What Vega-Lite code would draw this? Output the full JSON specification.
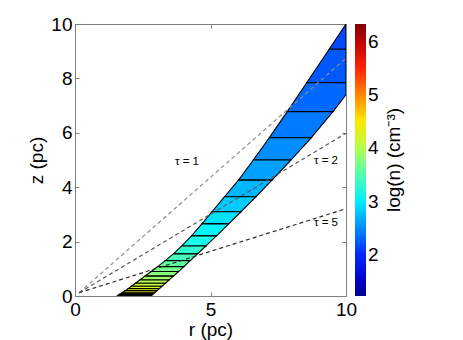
{
  "$schema": "https://vega.github.io/schema/vega-lite/v6.json",
  "autosize": {"type": "none"},
  "width": 271,
  "height": 272,
  "padding": {"left": 75, "top": 24, "right": 117, "bottom": 44},
  "config": {
    "font": "Liberation Sans",
    "view": {"stroke": "#808080", "strokeWidth": 1},
    "axis": {
      "domainColor": "#808080", "tickColor": "#808080", "tickSize": -4, "tickWidth": 1,
      "labelFont": "Liberation Sans", "labelFontSize": 19, "labelColor": "#000000",
      "titleFont": "Liberation Sans", "titleFontSize": 19, "titleFontWeight": "normal", "titleColor": "#000000",
      "grid": false, "labelOverlap": false
    },
    "legend": {
      "gradientLength": 272, "gradientThickness": 11, "offset": 8, "padding": 0,
      "labelFont": "Liberation Sans", "labelFontSize": 19, "labelColor": "#000000", "labelOffset": 4,
      "titleFont": "Liberation Sans", "titleFontSize": 19, "titleFontWeight": "normal", "titleColor": "#000000",
      "titleOrient": "right", "titleAnchor": "middle", "titlePadding": 6, "gradientStrokeWidth": 0
    }
  },
  "datasets": {
    "band": [
      {"s": 1, "z": 9.07, "ro": 9.38, "ri": 10, "v": 2.17},
      {"s": 1, "z": 10, "ro": 10, "ri": 10, "v": 2.17},
      {"s": 2, "z": 7.84, "ro": 8.55, "ri": 10, "v": 2.25},
      {"s": 2, "z": 9.07, "ro": 9.38, "ri": 10, "v": 2.25},
      {"s": 3, "z": 6.78, "ro": 7.83, "ri": 9.52, "v": 2.33},
      {"s": 3, "z": 7.4, "ro": 8.25, "ri": 10, "v": 2.33},
      {"s": 3, "z": 7.84, "ro": 8.55, "ri": 10, "v": 2.33},
      {"s": 4, "z": 5.82, "ro": 7.17, "ri": 8.72, "v": 2.42},
      {"s": 4, "z": 6.78, "ro": 7.83, "ri": 9.52, "v": 2.42},
      {"s": 5, "z": 5.0, "ro": 6.58, "ri": 7.97, "v": 2.52},
      {"s": 5, "z": 5.82, "ro": 7.17, "ri": 8.72, "v": 2.52},
      {"s": 6, "z": 4.26, "ro": 6.03, "ri": 7.27, "v": 2.62},
      {"s": 6, "z": 5.0, "ro": 6.58, "ri": 7.97, "v": 2.62},
      {"s": 7, "z": 3.65, "ro": 5.52, "ri": 6.68, "v": 2.72},
      {"s": 7, "z": 4.26, "ro": 6.03, "ri": 7.27, "v": 2.72},
      {"s": 8, "z": 3.1, "ro": 5.06, "ri": 6.13, "v": 2.83},
      {"s": 8, "z": 3.65, "ro": 5.52, "ri": 6.68, "v": 2.83},
      {"s": 9, "z": 2.65, "ro": 4.68, "ri": 5.67, "v": 2.94},
      {"s": 9, "z": 3.1, "ro": 5.06, "ri": 6.13, "v": 2.94},
      {"s": 10, "z": 2.21, "ro": 4.3, "ri": 5.22, "v": 3.06},
      {"s": 10, "z": 2.65, "ro": 4.68, "ri": 5.67, "v": 3.06},
      {"s": 11, "z": 1.84, "ro": 3.94, "ri": 4.83, "v": 3.2},
      {"s": 11, "z": 2.21, "ro": 4.3, "ri": 5.22, "v": 3.2},
      {"s": 12, "z": 1.55, "ro": 3.63, "ri": 4.52, "v": 3.33},
      {"s": 12, "z": 1.84, "ro": 3.94, "ri": 4.83, "v": 3.33},
      {"s": 13, "z": 1.3, "ro": 3.33, "ri": 4.25, "v": 3.45},
      {"s": 13, "z": 1.55, "ro": 3.63, "ri": 4.52, "v": 3.45},
      {"s": 14, "z": 1.08, "ro": 3.05, "ri": 4.02, "v": 3.56},
      {"s": 14, "z": 1.3, "ro": 3.33, "ri": 4.25, "v": 3.56},
      {"s": 15, "z": 0.9, "ro": 2.81, "ri": 3.82, "v": 3.67},
      {"s": 15, "z": 1.08, "ro": 3.05, "ri": 4.02, "v": 3.67},
      {"s": 16, "z": 0.73, "ro": 2.58, "ri": 3.63, "v": 3.78},
      {"s": 16, "z": 0.9, "ro": 2.81, "ri": 3.82, "v": 3.78},
      {"s": 17, "z": 0.59, "ro": 2.39, "ri": 3.47, "v": 3.89},
      {"s": 17, "z": 0.73, "ro": 2.58, "ri": 3.63, "v": 3.89},
      {"s": 18, "z": 0.47, "ro": 2.23, "ri": 3.34, "v": 4.0},
      {"s": 18, "z": 0.59, "ro": 2.39, "ri": 3.47, "v": 4.0},
      {"s": 19, "z": 0.36, "ro": 2.08, "ri": 3.21, "v": 4.1},
      {"s": 19, "z": 0.47, "ro": 2.23, "ri": 3.34, "v": 4.1},
      {"s": 20, "z": 0.27, "ro": 1.96, "ri": 3.11, "v": 4.2},
      {"s": 20, "z": 0.36, "ro": 2.08, "ri": 3.21, "v": 4.2},
      {"s": 21, "z": 0.2, "ro": 1.86, "ri": 3.03, "v": 4.3},
      {"s": 21, "z": 0.27, "ro": 1.96, "ri": 3.11, "v": 4.3},
      {"s": 22, "z": 0.14, "ro": 1.77, "ri": 2.96, "v": 4.4},
      {"s": 22, "z": 0.2, "ro": 1.86, "ri": 3.03, "v": 4.4},
      {"s": 23, "z": 0.09, "ro": 1.69, "ri": 2.9, "v": 4.5},
      {"s": 23, "z": 0.14, "ro": 1.77, "ri": 2.96, "v": 4.5},
      {"s": 24, "z": 0.055, "ro": 1.64, "ri": 2.86, "v": 4.6},
      {"s": 24, "z": 0.09, "ro": 1.69, "ri": 2.9, "v": 4.6},
      {"s": 25, "z": 0.03, "ro": 1.6, "ri": 2.83, "v": 4.7},
      {"s": 25, "z": 0.055, "ro": 1.64, "ri": 2.86, "v": 4.7},
      {"s": 26, "z": 0.012, "ro": 1.58, "ri": 2.81, "v": 4.8},
      {"s": 26, "z": 0.03, "ro": 1.6, "ri": 2.83, "v": 4.8},
      {"s": 27, "z": 0, "ro": 1.56, "ri": 2.8, "v": 4.9},
      {"s": 27, "z": 0.012, "ro": 1.58, "ri": 2.81, "v": 4.9}
    ],
    "tau": [
      {"tau": "1", "r": 0.15, "z": 0.12},
      {"tau": "1", "r": 10, "z": 8.74},
      {"tau": "2", "r": 0.15, "z": 0.12},
      {"tau": "2", "r": 10, "z": 5.98},
      {"tau": "5", "r": 0.15, "z": 0.12},
      {"tau": "5", "r": 10, "z": 3.21}
    ],
    "labels": [
      {"label": "τ = 1", "r": 4.13, "z": 4.94},
      {"label": "τ = 2", "r": 9.26, "z": 4.96},
      {"label": "τ = 5", "r": 9.26, "z": 2.67}
    ]
  },
  "resolve": {"axis": {"x": "independent", "y": "independent"}},
  "layer": [
    {
      "data": {"name": "band"},
      "mark": {"type": "area", "orient": "horizontal", "stroke": "#000000", "strokeWidth": 1.1, "clip": true},
      "encoding": {
        "y": {"field": "z", "type": "quantitative", "scale": {"domain": [0, 10], "nice": false},
              "axis": {"orient": "left", "values": [0, 2, 4, 6, 8, 10], "title": "z (pc)", "labelPadding": 7, "titlePadding": 4}},
        "x": {"field": "ro", "type": "quantitative", "scale": {"domain": [0, 10], "nice": false},
              "axis": {"orient": "bottom", "values": [0, 5, 10], "title": "r (pc)", "labelPadding": 8, "titlePadding": 1, "labelFlush": false}},
        "x2": {"field": "ri"},
        "detail": {"field": "s", "type": "nominal"},
        "fill": {"field": "v", "type": "quantitative",
                 "scale": {"domain": [1.23, 1.797, 3.092, 4.387, 5.682, 6.33],
                           "range": ["#00008f", "#0000ff", "#00ffff", "#ffff00", "#ff0000", "#800000"],
                           "interpolate": "rgb"},
                 "legend": {"title": "log(n) (cm⁻³)", "values": [2, 3, 4, 5, 6], "direction": "vertical",
                            "encode": {"title": {"update": {"angle": {"value": -90}, "baseline": {"value": "top"}}}}}}
      }
    },
    {
      "data": {"name": "tau"},
      "mark": {"type": "line", "strokeDash": [4, 3], "strokeWidth": 1.2, "clip": true},
      "encoding": {
        "x": {"field": "r", "type": "quantitative", "axis": null},
        "y": {"field": "z", "type": "quantitative", "axis": null},
        "stroke": {"field": "tau", "type": "nominal",
                   "scale": {"domain": ["1", "2", "5"], "range": ["#8c8c8c", "#5a5a5a", "#2e2e2e"]},
                   "legend": null}
      }
    },
    {
      "data": {"name": "labels"},
      "mark": {"type": "text", "fontSize": 11.5, "color": "#000000", "font": "Liberation Sans"},
      "encoding": {
        "x": {"field": "r", "type": "quantitative",
              "axis": {"orient": "top", "values": [0, 5, 10], "labels": false, "title": null, "domain": false}},
        "y": {"field": "z", "type": "quantitative",
              "axis": {"orient": "right", "values": [0, 2, 4, 6, 8, 10], "labels": false, "title": null, "domain": false}},
        "text": {"field": "label", "type": "nominal"}
      }
    }
  ]
}
